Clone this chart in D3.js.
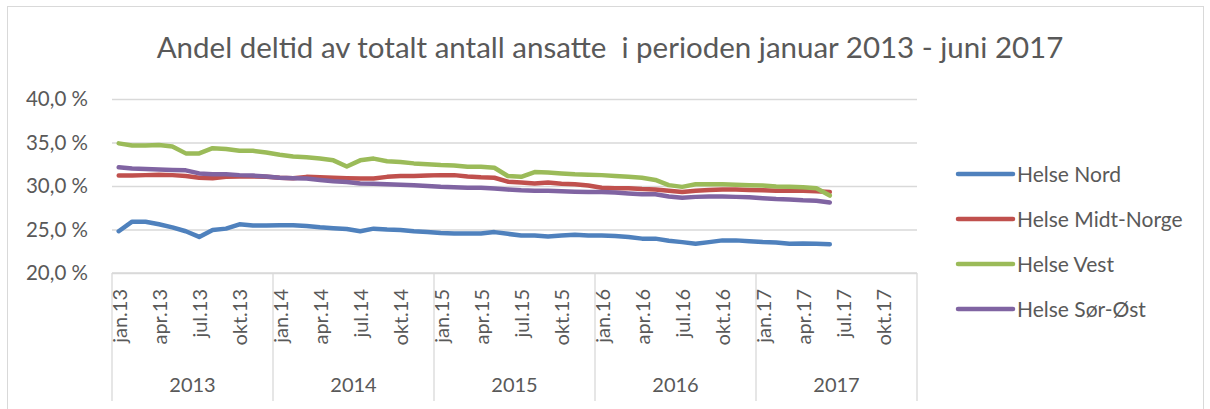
<!DOCTYPE html>
<html>
<head>
<meta charset="utf-8">
<script src="https://cdn.jsdelivr.net/npm/d3@7"></script>
<style>
  body { margin: 0; background: #fff; }
  text { font-family: Lato, "Open Sans", sans-serif; fill: #595959; }
</style>
</head>
<body>
<div id="chart"></div>
<script>
// month names + years for the category axis
var monthNames = ["jan","feb","mar","apr","mai","jun","jul","aug","sep","okt","nov","des"];
var years = ["2013","2014","2015","2016","2017"];

// percent values jan.13 - jun.17
var helseNord = [24.8, 25.9, 25.9, 25.6, 25.25, 24.8, 24.15, 24.95, 25.1, 25.6, 25.45, 25.45, 25.5, 25.5,
  25.4, 25.25, 25.15, 25.05, 24.8, 25.1, 25.0, 24.95, 24.8, 24.7, 24.6, 24.55, 24.55,
  24.55, 24.7, 24.5, 24.3, 24.3, 24.2, 24.3, 24.4, 24.3, 24.3, 24.25, 24.15, 23.95,
  23.95, 23.7, 23.55, 23.35, 23.55, 23.75, 23.75, 23.65, 23.55, 23.5, 23.35, 23.4, 23.35, 23.3];
var helseMidt = [31.2, 31.2, 31.25, 31.3, 31.25, 31.15, 30.95, 30.9, 31.05, 31.1, 31.1, 31.05, 30.95, 30.9,
  31.05, 31.0, 30.95, 30.9, 30.85, 30.85, 31.05, 31.15, 31.15, 31.2, 31.25, 31.25, 31.1,
  31.0, 30.95, 30.5, 30.4, 30.3, 30.4, 30.25, 30.2, 30.05, 29.8, 29.75, 29.75, 29.65,
  29.6, 29.45, 29.3, 29.45, 29.55, 29.6, 29.6, 29.55, 29.5, 29.45, 29.45, 29.45, 29.4, 29.3];
var helseVest = [34.9, 34.65, 34.65, 34.7, 34.55, 33.75, 33.75, 34.35, 34.25, 34.05, 34.05, 33.85, 33.6, 33.4,
  33.3, 33.15, 32.95, 32.25, 32.95, 33.15, 32.85, 32.75, 32.6, 32.5, 32.4, 32.35, 32.2,
  32.2, 32.1, 31.15, 31.05, 31.6, 31.55, 31.45, 31.35, 31.3, 31.25, 31.15, 31.05, 30.95,
  30.7, 30.1, 29.9, 30.2, 30.2, 30.2, 30.15, 30.1, 30.05, 29.95, 29.9, 29.85, 29.75, 28.9];
var helseSorOst = [32.15, 32.0, 31.95, 31.9, 31.85, 31.8, 31.45, 31.35, 31.35, 31.25, 31.2, 31.1, 30.95, 30.9,
  30.85, 30.7, 30.55, 30.45, 30.3, 30.25, 30.2, 30.15, 30.1, 30.0, 29.9, 29.85, 29.8,
  29.8, 29.7, 29.6, 29.5, 29.45, 29.45, 29.4, 29.35, 29.3, 29.3, 29.25, 29.15, 29.05,
  29.05, 28.8, 28.65, 28.75, 28.8, 28.8, 28.75, 28.7, 28.6, 28.5, 28.45, 28.35, 28.3, 28.1];

var seriesNames = ["Helse Nord", "Helse Midt-Norge", "Helse Vest", "Helse Sør-Øst"];
var yTicks = [20, 25, 30, 35, 40];
var title = "Andel deltid av totalt antall ansatte  i perioden januar 2013 - juni 2017";

var w = 1210;
var h = 409;
var colors = ["#4F81BD", "#C0504D", "#9BBB59", "#8064A2"];
var seriesData = [helseNord, helseMidt, helseVest, helseSorOst];

// build category list
var categories = [];
years.forEach(function (y) {
    monthNames.forEach(function (m) {
        categories.push(m + "." + y.slice(2));
    });
});

var svg = d3.select("#chart")
    .append("svg")
    .attr("width", w)
    .attr("height", h);

// chart border
svg.append("rect")
    .attr("x", 7.5).attr("y", 6.5)
    .attr("width", 1196).attr("height", 420)
    .attr("fill", "none")
    .attr("stroke", "#d9d9d9");

var x = d3.scaleBand()
    .domain(categories)
    .range([112, 917]);

var y = d3.scaleLinear()
    .domain([20, 40])
    .range([273, 99]);

function cx(c) { return x(c) + x.bandwidth() / 2; }

// title
svg.append("text")
    .attr("x", 610)
    .attr("y", 58)
    .attr("text-anchor", "middle")
    .style("font-size", "29.5px")
    .style("white-space", "pre")
    .text(title);

// gridlines + y labels
var yAxis = d3.axisLeft(y)
    .tickValues(yTicks)
    .tickSize(-(917 - 112))
    .tickPadding(24)
    .tickFormat(function (d) { return d3.format(".1f")(d).replace(".", ",") + " %"; });

var gy = svg.append("g")
    .attr("transform", "translate(112,0)")
    .call(yAxis);
gy.select(".domain").remove();
gy.selectAll("line").attr("stroke", "#d9d9d9").attr("stroke-width", 1.3);
gy.selectAll("text").style("font-size", "20.5px").attr("fill", "#595959");

// category axis lines
var axisY = y(20);
svg.append("line")
    .attr("x1", 112).attr("x2", 917)
    .attr("y1", axisY).attr("y2", axisY)
    .attr("stroke", "#d9d9d9").attr("stroke-width", 1.3);

var yearStarts = years.map(function (yr) { return x("jan." + yr.slice(2)); });
yearStarts.push(917);

svg.selectAll(".sep")
    .data(yearStarts)
    .enter()
    .append("line")
    .attr("x1", function (d) { return d; })
    .attr("x2", function (d) { return d; })
    .attr("y1", axisY)
    .attr("y2", 401)
    .attr("stroke", "#d9d9d9")
    .attr("stroke-width", 1.3);

// month labels (every third month)
var shown = categories.filter(function (c, i) { return i % 3 === 0; });
svg.selectAll(".month")
    .data(shown)
    .enter()
    .append("text")
    .attr("transform", function (d) { return "translate(" + (cx(d) + 8) + ",289) rotate(-90)"; })
    .attr("text-anchor", "end")
    .style("font-size", "20px")
    .text(function (d) { return d; });

// year labels
svg.selectAll(".year")
    .data(years)
    .enter()
    .append("text")
    .attr("x", function (d, i) { return (yearStarts[i] + yearStarts[i + 1]) / 2; })
    .attr("y", 392)
    .attr("text-anchor", "middle")
    .style("font-size", "20px")
    .text(function (d) { return d; });

// lines
var line = d3.line()
    .x(function (d, i) { return cx(categories[i]); })
    .y(function (d) { return y(d); });

svg.selectAll(".series")
    .data(seriesData)
    .enter()
    .append("path")
    .attr("d", line)
    .attr("fill", "none")
    .attr("stroke", function (d, i) { return colors[i]; })
    .attr("stroke-width", 4.5)
    .attr("stroke-linejoin", "round")
    .attr("stroke-linecap", "round");

// legend
var legend = svg.selectAll(".legend")
    .data(seriesNames)
    .enter()
    .append("g")
    .attr("transform", function (d, i) { return "translate(958," + (174 + i * 45) + ")"; });

legend.append("line")
    .attr("x1", 0).attr("x2", 55)
    .attr("stroke", function (d, i) { return colors[i]; })
    .attr("stroke-width", 4.5)
    .attr("stroke-linecap", "round");

legend.append("text")
    .attr("x", 59)
    .attr("y", 7.5)
    .style("font-size", "21px")
    .text(function (d) { return d; });
</script>
</body>
</html>
